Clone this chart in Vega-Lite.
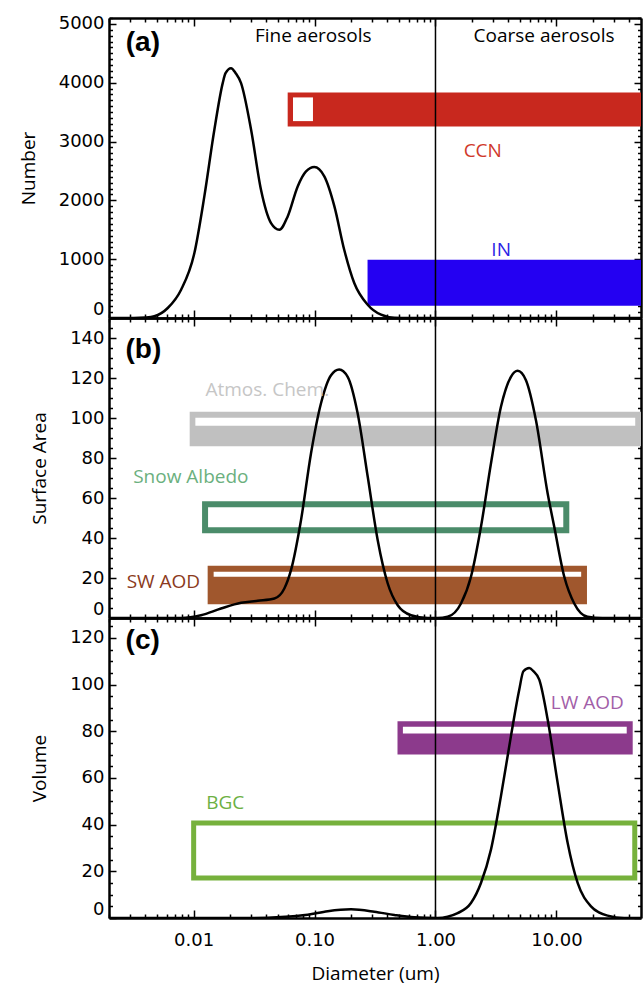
{
 "$schema": "https://vega.github.io/schema/vega-lite/v6.json",
 "padding": {"left": 19, "top": 14, "right": 0, "bottom": 3},
 "background": "white",
 "spacing": 0,
 "bounds": "flush",
 "config": {
  "view": {"stroke": null},
  "axis": {"domainColor": "black", "domainWidth": 2.5, "tickColor": "black", "tickWidth": 1.5, "labelFont": "DejaVu Sans", "labelFontSize": 18, "labelColor": "black", "titleFont": "Open Sans", "titleFontSize": 19, "titleFontWeight": "normal", "titleColor": "black", "grid": false, "labelOverlap": false, "labelFlush": false}
 },
 "datasets": {
  "numberDist": [{"d":0.002,"v":0},{"d":0.0032,"v":0},{"d":0.004,"v":8},{"d":0.00474,"v":29},{"d":0.00612,"v":170},{"d":0.00789,"v":481},{"d":0.01016,"v":1104},{"d":0.01228,"v":2067},{"d":0.01486,"v":3200},{"d":0.01742,"v":3993},{"d":0.01838,"v":4162},{"d":0.0204,"v":4247},{"d":0.0223,"v":4162},{"d":0.0247,"v":3993},{"d":0.0299,"v":3200},{"d":0.0361,"v":2180},{"d":0.0437,"v":1614},{"d":0.0512,"v":1500},{"d":0.06,"v":1727},{"d":0.0726,"v":2237},{"d":0.0851,"v":2492},{"d":0.0996,"v":2565},{"d":0.1205,"v":2407},{"d":0.146,"v":1898},{"d":0.176,"v":1160},{"d":0.213,"v":595},{"d":0.275,"v":226},{"d":0.355,"v":56},{"d":0.457,"v":5},{"d":0.6,"v":0},{"d":50,"v":0}],
  "surfaceDist": [{"d":0.002,"v":0},{"d":0.0079,"v":0},{"d":0.01153,"v":1.4},{"d":0.01687,"v":4.75},{"d":0.0247,"v":7.6},{"d":0.034,"v":8.6},{"d":0.0466,"v":9.75},{"d":0.0563,"v":14.75},{"d":0.0639,"v":23.9},{"d":0.0773,"v":48.9},{"d":0.0935,"v":82.25},{"d":0.113,"v":107.25},{"d":0.137,"v":121.4},{"d":0.16,"v":124.25},{"d":0.188,"v":120.6},{"d":0.2274,"v":102.25},{"d":0.2754,"v":70.6},{"d":0.333,"v":38.9},{"d":0.403,"v":17.25},{"d":0.487,"v":6.4},{"d":0.628,"v":1.4},{"d":0.863,"v":0},{"d":1.04,"v":0},{"d":1.26,"v":0.6},{"d":1.625,"v":7.25},{"d":1.965,"v":20.6},{"d":2.377,"v":45.6},{"d":2.875,"v":77.25},{"d":3.477,"v":105.6},{"d":4.205,"v":120.6},{"d":4.78,"v":123.6},{"d":5.596,"v":118.9},{"d":6.77,"v":98.9},{"d":8.46,"v":62.25},{"d":9.59,"v":45.6},{"d":11.61,"v":20.6},{"d":14.03,"v":7.25},{"d":18.07,"v":0.6},{"d":24,"v":0},{"d":50,"v":0}],
  "volumeDist": [{"d":0.002,"v":0},{"d":0.03,"v":0},{"d":0.0529,"v":0.4},{"d":0.0879,"v":1.4},{"d":0.1285,"v":2.9},{"d":0.2004,"v":3.7},{"d":0.312,"v":2.7},{"d":0.457,"v":1.3},{"d":0.668,"v":0.3},{"d":1.04,"v":0},{"d":1.525,"v":2.1},{"d":1.965,"v":6.4},{"d":2.377,"v":15},{"d":2.875,"v":29.3},{"d":3.477,"v":52.2},{"d":4.205,"v":77.9},{"d":4.93,"v":97.9},{"d":5.33,"v":105.7},{"d":5.96,"v":107.1},{"d":6.45,"v":105.7},{"d":7.21,"v":102.1},{"d":8.46,"v":85},{"d":10.23,"v":57.9},{"d":12.38,"v":32.1},{"d":14.97,"v":15},{"d":19.3,"v":5},{"d":26.5,"v":1},{"d":36.3,"v":0},{"d":50,"v":0}],
  "rectsA": [{"key":"CCN","x1":0.06,"x2":50,"y1":3257,"y2":3835},{"key":"IN","x1":0.2744,"x2":50,"y1":209,"y2":990},{"key":"hole","x1":0.0664,"x2":0.0971,"y1":3347,"y2":3750}],
  "rectsB": [{"key":"Atmos","x1":0.00929,"x2":50,"y1":85.9,"y2":103.1},{"key":"SW","x1":0.01308,"x2":17.88,"y1":6.9,"y2":26.1},{"key":"hole","x1":0.01035,"x2":44.8,"y1":96.1,"y2":100.1},{"key":"hole","x1":0.01466,"x2":16.01,"y1":20.6,"y2":23.1}],
  "boxesB": [{"key":"Snow","x1":0.01245,"x2":12.06,"y1":43.9,"y2":56.85}],
  "rectsC": [{"key":"LW","x1":0.4853,"x2":42.7,"y1":70,"y2":84.3},{"key":"hole","x1":0.5378,"x2":38.1,"y1":79,"y2":81.9}],
  "boxesC": [{"key":"BGC","x1":0.01002,"x2":44.4,"y1":17.1,"y2":40.7}],
  "labelsA": [{"label":"Fine aerosols","key":"plain","d":0.0977,"v":4791},{"label":"Coarse aerosols","key":"plain","d":7.9,"v":4791},{"label":"CCN","key":"CCN","d":2.46,"v":2832},{"label":"IN","key":"IN","d":3.49,"v":1155}],
  "labelsB": [{"label":"Atmos. Chem.","key":"Atmos","d":0.0407,"v":114.25},{"label":"Snow Albedo","key":"Snow","d":0.0095,"v":70.6},{"label":"SW AOD","key":"SW","d":0.00563,"v":18.1}],
  "labelsC": [{"label":"LW AOD","key":"LW","d":17.98,"v":92.1},{"label":"BGC","key":"BGC","d":0.0183,"v":49.3}]
 },
 "vconcat": [
  {
   "width": 532, "height": 300,
   "resolve": {"axis": {"x": "independent", "y": "independent"}, "scale": {"color": "independent"}},
   "layer": [
    {"data": {"name": "rectsA"}, "mark": {"type": "rect", "clip": true},
     "encoding": {
      "x": {"field": "x1", "type": "quantitative", "scale": {"type": "log", "domain": [0.002, 50], "nice": false}, "axis": null},
      "x2": {"field": "x2"},
      "y": {"field": "y1", "type": "quantitative", "scale": {"domain": [0, 5100], "nice": false, "zero": false}, "axis": null},
      "y2": {"field": "y2"},
      "color": {"field": "key", "type": "nominal", "scale": {"domain": ["CCN", "IN", "hole"], "range": ["#c8281e", "#2400f2", "#ffffff"]}, "legend": null}
     }},
    {"data": {"values": [{"boundary": 1}]}, "mark": {"type": "rule", "color": "black", "strokeWidth": 1.5},
     "encoding": {"x": {"field": "boundary", "type": "quantitative", "scale": {"type": "log", "domain": [0.002, 50], "nice": false}, "axis": null}}},
    {"data": {"name": "numberDist"}, "mark": {"type": "line", "color": "black", "strokeWidth": 2.5, "interpolate": "monotone", "clip": true},
     "encoding": {
      "x": {"field": "d", "type": "quantitative", "scale": {"type": "log", "domain": [0.002, 50], "nice": false},
            "axis": {"orient": "bottom", "values": [0.002,0.003,0.004,0.005,0.006,0.007,0.008,0.009,0.01,0.02,0.03,0.04,0.05,0.06,0.07,0.08,0.09,0.1,0.2,0.3,0.4,0.5,0.6,0.7,0.8,0.9,1,2,3,4,5,6,7,8,9,10,20,30,40], "labels": false, "title": null, "tickSize": {"expr": "abs(log(datum.value)/LN10 - round(log(datum.value)/LN10)) < 0.00001 ? -8 : -4"}}},
      "y": {"field": "v", "type": "quantitative", "scale": {"domain": [0, 5100], "nice": false, "zero": false},
            "axis": {"orient": "left", "values": [0,100,200,300,400,500,600,700,800,900,1000,1100,1200,1300,1400,1500,1600,1700,1800,1900,2000,2100,2200,2300,2400,2500,2600,2700,2800,2900,3000,3100,3200,3300,3400,3500,3600,3700,3800,3900,4000,4100,4200,4300,4400,4500,4600,4700,4800,4900,5000,5100], "title": "Number", "titlePadding": 20, "tickSize": {"expr": "datum.value % 1000 == 0 ? -7 : -3.5"}, "labelExpr": "datum.value % 1000 == 0 ? format(datum.value, 'd') : ''", "labelPadding": 12, "labelFlush": true}}
     }},
    {"data": {"name": "numberDist"}, "mark": {"type": "point", "opacity": 0},
     "encoding": {
      "x": {"field": "d", "type": "quantitative", "scale": {"type": "log", "domain": [0.002, 50], "nice": false},
            "axis": {"orient": "top", "values": [0.002,0.003,0.004,0.005,0.006,0.007,0.008,0.009,0.01,0.02,0.03,0.04,0.05,0.06,0.07,0.08,0.09,0.1,0.2,0.3,0.4,0.5,0.6,0.7,0.8,0.9,1,2,3,4,5,6,7,8,9,10,20,30,40], "labels": false, "title": null, "tickSize": {"expr": "abs(log(datum.value)/LN10 - round(log(datum.value)/LN10)) < 0.00001 ? -8 : -4"}}},
      "y": {"field": "v", "type": "quantitative", "scale": {"domain": [0, 5100], "nice": false, "zero": false},
            "axis": {"orient": "right", "values": [0,100,200,300,400,500,600,700,800,900,1000,1100,1200,1300,1400,1500,1600,1700,1800,1900,2000,2100,2200,2300,2400,2500,2600,2700,2800,2900,3000,3100,3200,3300,3400,3500,3600,3700,3800,3900,4000,4100,4200,4300,4400,4500,4600,4700,4800,4900,5000,5100], "labels": false, "title": null, "tickSize": {"expr": "datum.value % 1000 == 0 ? -7 : -3.5"}}}
     }},
    {"data": {"name": "labelsA"}, "mark": {"type": "text", "font": "Open Sans", "fontSize": 19, "align": "center", "baseline": "middle"},
     "encoding": {
      "x": {"field": "d", "type": "quantitative", "scale": {"type": "log", "domain": [0.002, 50], "nice": false}, "axis": null},
      "y": {"field": "v", "type": "quantitative", "scale": {"domain": [0, 5100], "nice": false, "zero": false}, "axis": null},
      "text": {"field": "label"},
      "color": {"field": "key", "type": "nominal", "scale": {"domain": ["plain", "CCN", "IN"], "range": ["#000000", "#d0392b", "#2b1de6"]}, "legend": null}
     }},
    {"data": {"values": [{"panel": "(a)", "d": 0.00381, "v": 4672}]}, "mark": {"type": "text", "font": "Liberation Sans", "fontWeight": "bold", "fontSize": 28, "align": "center", "baseline": "middle", "color": "black"},
     "encoding": {
      "x": {"field": "d", "type": "quantitative", "scale": {"type": "log", "domain": [0.002, 50], "nice": false}, "axis": null},
      "y": {"field": "v", "type": "quantitative", "scale": {"domain": [0, 5100], "nice": false, "zero": false}, "axis": null},
      "text": {"field": "panel"}
     }}
   ]
  },
  {
   "width": 532, "height": 300,
   "resolve": {"axis": {"x": "independent", "y": "independent"}, "scale": {"color": "independent"}},
   "layer": [
    {"data": {"name": "rectsB"}, "mark": {"type": "rect", "clip": true},
     "encoding": {
      "x": {"field": "x1", "type": "quantitative", "scale": {"type": "log", "domain": [0.002, 50], "nice": false}, "axis": null},
      "x2": {"field": "x2"},
      "y": {"field": "y1", "type": "quantitative", "scale": {"domain": [0, 150], "nice": false, "zero": false}, "axis": null},
      "y2": {"field": "y2"},
      "color": {"field": "key", "type": "nominal", "scale": {"domain": ["Atmos", "SW", "hole"], "range": ["#c0c0c0", "#a0572d", "#ffffff"]}, "legend": null}
     }},
    {"data": {"name": "boxesB"}, "mark": {"type": "rect", "filled": false, "strokeWidth": 6, "clip": true},
     "encoding": {
      "x": {"field": "x1", "type": "quantitative", "scale": {"type": "log", "domain": [0.002, 50], "nice": false}, "axis": null},
      "x2": {"field": "x2"},
      "y": {"field": "y1", "type": "quantitative", "scale": {"domain": [0, 150], "nice": false, "zero": false}, "axis": null},
      "y2": {"field": "y2"},
      "color": {"field": "key", "type": "nominal", "scale": {"domain": ["Snow"], "range": ["#4b8c6a"]}, "legend": null}
     }},
    {"data": {"values": [{"boundary": 1}]}, "mark": {"type": "rule", "color": "black", "strokeWidth": 1.5},
     "encoding": {"x": {"field": "boundary", "type": "quantitative", "scale": {"type": "log", "domain": [0.002, 50], "nice": false}, "axis": null}}},
    {"data": {"name": "surfaceDist"}, "mark": {"type": "line", "color": "black", "strokeWidth": 2.5, "interpolate": "monotone", "clip": true},
     "encoding": {
      "x": {"field": "d", "type": "quantitative", "scale": {"type": "log", "domain": [0.002, 50], "nice": false},
            "axis": {"orient": "bottom", "values": [0.002,0.003,0.004,0.005,0.006,0.007,0.008,0.009,0.01,0.02,0.03,0.04,0.05,0.06,0.07,0.08,0.09,0.1,0.2,0.3,0.4,0.5,0.6,0.7,0.8,0.9,1,2,3,4,5,6,7,8,9,10,20,30,40], "labels": false, "title": null, "tickSize": {"expr": "abs(log(datum.value)/LN10 - round(log(datum.value)/LN10)) < 0.00001 ? -8 : -4"}}},
      "y": {"field": "v", "type": "quantitative", "scale": {"domain": [0, 150], "nice": false, "zero": false},
            "axis": {"orient": "left", "values": [0,5,10,15,20,25,30,35,40,45,50,55,60,65,70,75,80,85,90,95,100,105,110,115,120,125,130,135,140,145,150], "title": "Surface Area", "titlePadding": 20, "tickSize": {"expr": "datum.value % 20 == 0 ? -7 : -3.5"}, "labelExpr": "datum.value % 20 == 0 ? format(datum.value, 'd') : ''", "labelPadding": 12, "labelFlush": true}}
     }},
    {"data": {"name": "surfaceDist"}, "mark": {"type": "point", "opacity": 0},
     "encoding": {
      "x": {"field": "d", "type": "quantitative", "scale": {"type": "log", "domain": [0.002, 50], "nice": false},
            "axis": {"orient": "top", "values": [0.002,0.003,0.004,0.005,0.006,0.007,0.008,0.009,0.01,0.02,0.03,0.04,0.05,0.06,0.07,0.08,0.09,0.1,0.2,0.3,0.4,0.5,0.6,0.7,0.8,0.9,1,2,3,4,5,6,7,8,9,10,20,30,40], "labels": false, "title": null, "tickSize": {"expr": "abs(log(datum.value)/LN10 - round(log(datum.value)/LN10)) < 0.00001 ? -8 : -4"}}},
      "y": {"field": "v", "type": "quantitative", "scale": {"domain": [0, 150], "nice": false, "zero": false},
            "axis": {"orient": "right", "values": [0,5,10,15,20,25,30,35,40,45,50,55,60,65,70,75,80,85,90,95,100,105,110,115,120,125,130,135,140,145,150], "labels": false, "title": null, "tickSize": {"expr": "datum.value % 20 == 0 ? -7 : -3.5"}}}
     }},
    {"data": {"name": "labelsB"}, "mark": {"type": "text", "font": "Open Sans", "fontSize": 19, "align": "center", "baseline": "middle"},
     "encoding": {
      "x": {"field": "d", "type": "quantitative", "scale": {"type": "log", "domain": [0.002, 50], "nice": false}, "axis": null},
      "y": {"field": "v", "type": "quantitative", "scale": {"domain": [0, 150], "nice": false, "zero": false}, "axis": null},
      "text": {"field": "label"},
      "color": {"field": "key", "type": "nominal", "scale": {"domain": ["Atmos", "Snow", "SW"], "range": ["#c6c6c6", "#6bb07e", "#8b3a20"]}, "legend": null}
     }},
    {"data": {"values": [{"panel": "(b)", "d": 0.00385, "v": 133.9}]}, "mark": {"type": "text", "font": "Liberation Sans", "fontWeight": "bold", "fontSize": 28, "align": "center", "baseline": "middle", "color": "black"},
     "encoding": {
      "x": {"field": "d", "type": "quantitative", "scale": {"type": "log", "domain": [0.002, 50], "nice": false}, "axis": null},
      "y": {"field": "v", "type": "quantitative", "scale": {"domain": [0, 150], "nice": false, "zero": false}, "axis": null},
      "text": {"field": "panel"}
     }}
   ]
  },
  {
   "width": 532, "height": 300,
   "resolve": {"axis": {"x": "independent", "y": "independent"}, "scale": {"color": "independent"}},
   "layer": [
    {"data": {"name": "rectsC"}, "mark": {"type": "rect", "clip": true},
     "encoding": {
      "x": {"field": "x1", "type": "quantitative", "scale": {"type": "log", "domain": [0.002, 50], "nice": false}, "axis": null},
      "x2": {"field": "x2"},
      "y": {"field": "y1", "type": "quantitative", "scale": {"domain": [0, 128.5], "nice": false, "zero": false}, "axis": null},
      "y2": {"field": "y2"},
      "color": {"field": "key", "type": "nominal", "scale": {"domain": ["LW", "hole"], "range": ["#8c3a8c", "#ffffff"]}, "legend": null}
     }},
    {"data": {"name": "boxesC"}, "mark": {"type": "rect", "filled": false, "strokeWidth": 5, "clip": true},
     "encoding": {
      "x": {"field": "x1", "type": "quantitative", "scale": {"type": "log", "domain": [0.002, 50], "nice": false}, "axis": null},
      "x2": {"field": "x2"},
      "y": {"field": "y1", "type": "quantitative", "scale": {"domain": [0, 128.5], "nice": false, "zero": false}, "axis": null},
      "y2": {"field": "y2"},
      "color": {"field": "key", "type": "nominal", "scale": {"domain": ["BGC"], "range": ["#76b13c"]}, "legend": null}
     }},
    {"data": {"values": [{"boundary": 1}]}, "mark": {"type": "rule", "color": "black", "strokeWidth": 1.5},
     "encoding": {"x": {"field": "boundary", "type": "quantitative", "scale": {"type": "log", "domain": [0.002, 50], "nice": false}, "axis": null}}},
    {"data": {"name": "volumeDist"}, "mark": {"type": "line", "color": "black", "strokeWidth": 2.5, "interpolate": "monotone", "clip": true},
     "encoding": {
      "x": {"field": "d", "type": "quantitative", "scale": {"type": "log", "domain": [0.002, 50], "nice": false},
            "axis": {"orient": "bottom", "values": [0.002,0.003,0.004,0.005,0.006,0.007,0.008,0.009,0.01,0.02,0.03,0.04,0.05,0.06,0.07,0.08,0.09,0.1,0.2,0.3,0.4,0.5,0.6,0.7,0.8,0.9,1,2,3,4,5,6,7,8,9,10,20,30,40], "title": "Diameter (um)", "titlePadding": 11, "labelPadding": 21, "tickSize": {"expr": "abs(log(datum.value)/LN10 - round(log(datum.value)/LN10)) < 0.00001 ? -8 : -4"}, "labelExpr": "abs(log(datum.value)/LN10 - round(log(datum.value)/LN10)) < 0.00001 ? format(datum.value, '.2f') : ''"}},
      "y": {"field": "v", "type": "quantitative", "scale": {"domain": [0, 128.5], "nice": false, "zero": false},
            "axis": {"orient": "left", "values": [0,5,10,15,20,25,30,35,40,45,50,55,60,65,70,75,80,85,90,95,100,105,110,115,120,125], "title": "Volume", "titlePadding": 20, "tickSize": {"expr": "datum.value % 20 == 0 ? -7 : -3.5"}, "labelExpr": "datum.value % 20 == 0 ? format(datum.value, 'd') : ''", "labelPadding": 12, "labelFlush": true}}
     }},
    {"data": {"name": "volumeDist"}, "mark": {"type": "point", "opacity": 0},
     "encoding": {
      "x": {"field": "d", "type": "quantitative", "scale": {"type": "log", "domain": [0.002, 50], "nice": false},
            "axis": {"orient": "top", "values": [0.002,0.003,0.004,0.005,0.006,0.007,0.008,0.009,0.01,0.02,0.03,0.04,0.05,0.06,0.07,0.08,0.09,0.1,0.2,0.3,0.4,0.5,0.6,0.7,0.8,0.9,1,2,3,4,5,6,7,8,9,10,20,30,40], "labels": false, "title": null, "tickSize": {"expr": "abs(log(datum.value)/LN10 - round(log(datum.value)/LN10)) < 0.00001 ? -8 : -4"}}},
      "y": {"field": "v", "type": "quantitative", "scale": {"domain": [0, 128.5], "nice": false, "zero": false},
            "axis": {"orient": "right", "values": [0,5,10,15,20,25,30,35,40,45,50,55,60,65,70,75,80,85,90,95,100,105,110,115,120,125], "labels": false, "title": null, "tickSize": {"expr": "datum.value % 20 == 0 ? -7 : -3.5"}}}
     }},
    {"data": {"name": "labelsC"}, "mark": {"type": "text", "font": "Open Sans", "fontSize": 19, "align": "center", "baseline": "middle"},
     "encoding": {
      "x": {"field": "d", "type": "quantitative", "scale": {"type": "log", "domain": [0.002, 50], "nice": false}, "axis": null},
      "y": {"field": "v", "type": "quantitative", "scale": {"domain": [0, 128.5], "nice": false, "zero": false}, "axis": null},
      "text": {"field": "label"},
      "color": {"field": "key", "type": "nominal", "scale": {"domain": ["LW", "BGC"], "range": ["#a25ea8", "#6cb043"]}, "legend": null}
     }},
    {"data": {"values": [{"panel": "(c)", "d": 0.0038, "v": 118.6}]}, "mark": {"type": "text", "font": "Liberation Sans", "fontWeight": "bold", "fontSize": 28, "align": "center", "baseline": "middle", "color": "black"},
     "encoding": {
      "x": {"field": "d", "type": "quantitative", "scale": {"type": "log", "domain": [0.002, 50], "nice": false}, "axis": null},
      "y": {"field": "v", "type": "quantitative", "scale": {"domain": [0, 128.5], "nice": false, "zero": false}, "axis": null},
      "text": {"field": "panel"}
     }}
   ]
  }
 ]
}
